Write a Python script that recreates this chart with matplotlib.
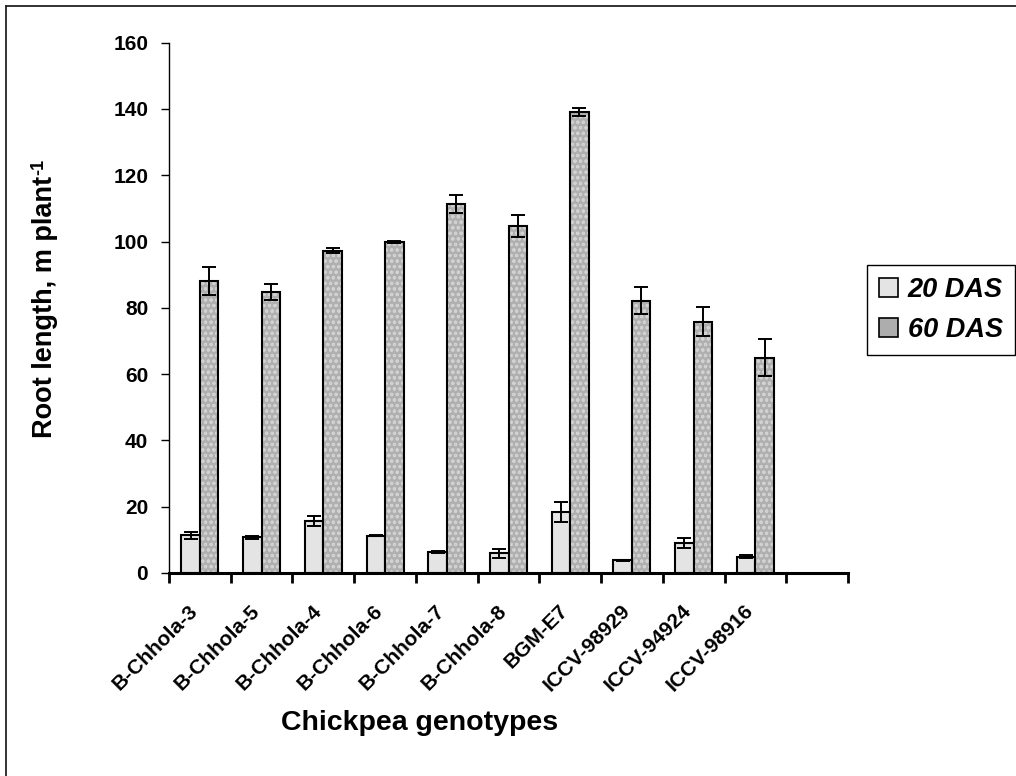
import matplotlib
matplotlib.use("Agg")
import matplotlib.pyplot as plt
from matplotlib.patches import Patch
from matplotlib.lines import Line2D
from matplotlib.transforms import ScaledTranslation
import numpy as np

# ---- data ----
genotypes = ["B-Chhola-3", "B-Chhola-5", "B-Chhola-4", "B-Chhola-6", "B-Chhola-7",
             "B-Chhola-8", "BGM-E7", "ICCV-98929", "ICCV-94924", "ICCV-98916"]
das20 = [11.4, 10.8, 15.7, 11.3, 6.3, 5.9, 18.4, 3.8, 9.0, 4.9]
das20_err = [1.1, 0.5, 1.6, 0.2, 0.2, 1.3, 3.0, 0.2, 1.6, 0.5]
das60 = [88.1, 84.9, 97.3, 100.0, 111.3, 104.7, 139.1, 82.2, 75.8, 65.0]
das60_err = [4.3, 2.4, 0.9, 0.3, 2.7, 3.4, 1.1, 4.2, 4.4, 5.5]
series_labels = ["20 DAS", "60 DAS"]
yticks = [0, 20, 40, 60, 80, 100, 120, 140, 160]
n_slots = 11  # Excel category axis with one empty trailing category

plt.rcParams['font.family'] = ['Liberation Sans', 'DejaVu Sans']
plt.rcParams['font.weight'] = 'bold'
plt.rcParams['hatch.linewidth'] = 0.8

W, H = 1016, 776
fig = plt.figure(figsize=(W / 100, H / 100), dpi=100)
ax = fig.add_axes([169 / W, 1 - 573 / H, (848 - 169) / W, (573 - 42.7) / H])

x = np.arange(len(genotypes))
bw = 0.3
c20 = '#e4e4e4'
c60 = '#b0b0b0'

ax.bar(x - bw / 2, das20, bw, color=c20, edgecolor='black', linewidth=1.5, zorder=2)
ax.bar(x + bw / 2, das60, bw, color=c60, edgecolor='#d2d2d2', hatch='ooo',
       linewidth=0, zorder=2)
ax.bar(x + bw / 2, das60, bw, fill=False, edgecolor='black', linewidth=1.5, zorder=3)

ax.errorbar(x - bw / 2, das20, yerr=das20_err, fmt='none', ecolor='black',
            elinewidth=1.4, capsize=5, capthick=1.4, zorder=4)
ax.errorbar(x + bw / 2, das60, yerr=das60_err, fmt='none', ecolor='black',
            elinewidth=1.4, capsize=5, capthick=1.4, zorder=4)

ax.set_xlim(-0.5, n_slots - 0.5)
ax.set_ylim(0, 160)
ax.set_yticks(yticks)
ax.tick_params(axis='y', direction='out', length=6, width=1, pad=9, labelsize=15)
for s in ['top', 'right']:
    ax.spines[s].set_visible(False)
ax.spines['left'].set_linewidth(1.0)
ax.spines['bottom'].set_linewidth(2.2)

# major ticks at category boundaries, labels at category centres
ax.set_xticks(np.arange(n_slots + 1) - 0.5)
ax.set_xticklabels([])
ax.tick_params(axis='x', which='major', direction='out', length=7, width=2)
ax.set_xticks(x, minor=True)
ax.set_xticklabels(genotypes, minor=True, rotation=45, ha='right', va='center',
                   rotation_mode='anchor', fontsize=15, fontweight='bold')
ax.tick_params(axis='x', which='minor', length=0, pad=25)
off = ScaledTranslation(-5 / 100, 0, fig.dpi_scale_trans)
for lab in ax.get_xticklabels(minor=True):
    lab.set_transform(lab.get_transform() + off)

fig.text(420 / W, 1 - 723 / H, "Chickpea genotypes", ha='center', va='center',
         fontsize=20.5, fontweight='bold')
ylab = fig.text(45 / W, 1 - 307 / H, "Root length, m plant", ha='center',
                va='center', rotation=90, fontsize=19.5, fontweight='bold')
ax.annotate("-1", xy=(0, 1), xycoords=ylab, rotation=90, rotation_mode='anchor',
            ha='left', va='top', fontsize=13, fontweight='bold',
            xytext=(-1, 1), textcoords='offset points', annotation_clip=False)

handles = [Patch(facecolor=c20, edgecolor='black', linewidth=1.2),
           Patch(facecolor='#adadad', edgecolor='black', linewidth=1.2)]
leg = fig.legend(handles, series_labels, loc='upper left',
                 bbox_to_anchor=(867 / W, 1 - 265 / H), bbox_transform=fig.transFigure,
                 borderaxespad=0, frameon=True, fancybox=False, framealpha=1,
                 edgecolor='black', handlelength=0.7, handleheight=0.7,
                 handletextpad=0.35, labelspacing=0.5, borderpad=0.45,
                 prop={'family': 'Liberation Sans', 'weight': 'bold',
                       'style': 'italic', 'size': 19.5})
leg.get_frame().set_linewidth(1.0)

# outer chart-area border (only left/top visible in the picture)
fig.add_artist(Line2D([5.5 / W, 5.5 / W], [0, 1 - 5.5 / H], color='#222222', lw=1.3,
                      transform=fig.transFigure))
fig.add_artist(Line2D([5.5 / W, 1], [1 - 5.5 / H, 1 - 5.5 / H], color='#222222', lw=1.3,
                      transform=fig.transFigure))

fig.savefig("out.png", dpi=100)
